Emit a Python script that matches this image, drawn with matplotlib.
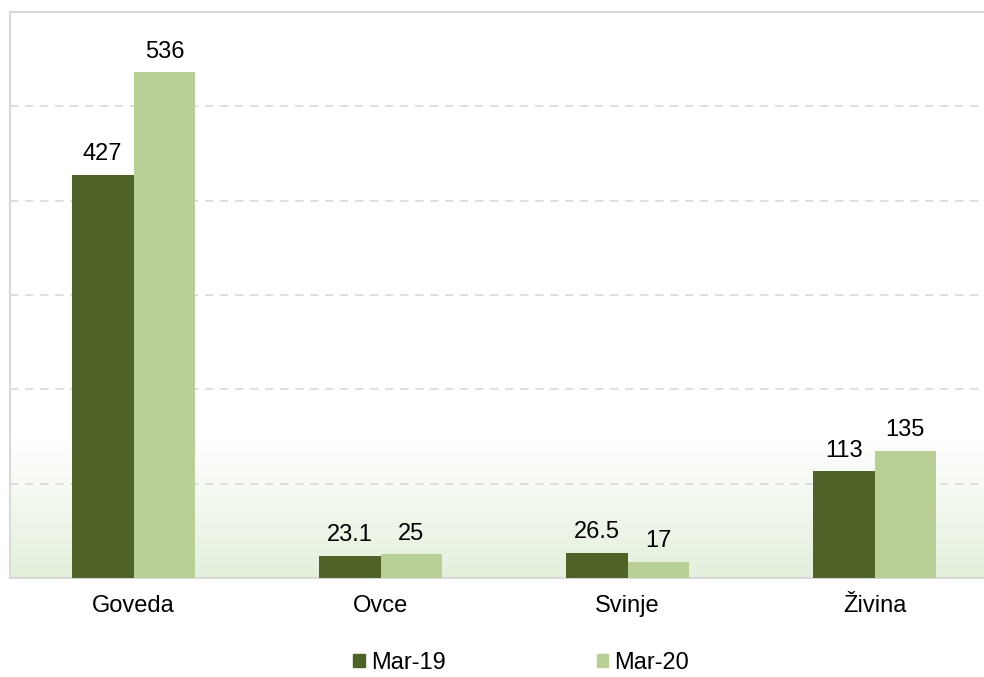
import numpy as np
import matplotlib.pyplot as plt
from matplotlib.patches import Patch

# podaci
kategorije = ["Goveda", "Ovce", "Svinje", "Živina"]
mar19 = [427, 23.1, 26.5, 113]
mar20 = [536, 25, 17, 135]
serije = ["Mar-19", "Mar-20"]

tamna = "#4f6228"
svijetla = "#b9cf96"
siva = "#d9d9d9"

plt.rcParams['font.family'] = ['Liberation Sans', 'DejaVu Sans']

fig = plt.figure(figsize=(9.84, 6.77), dpi=100)
ax = fig.add_axes([10 / 984, 99 / 677, 988 / 984, 566 / 677])

x = np.arange(len(kategorije))
w = 0.25

# gradijent pri dnu (bijelo gore, zeleno dolje)
t = np.linspace(0, 1, 256)[:, None, None]
boja_dno = np.array([0.89, 0.94, 0.86])
img = boja_dno * (1 - t) + np.ones(3) * t
ax.imshow(img, extent=(-0.5, 3.5, 0, 147), aspect='auto', origin='lower', zorder=0)

b1 = ax.bar(x - w / 2, mar19, w, color=tamna, zorder=3, label=serije[0])
b2 = ax.bar(x + w / 2, mar20, w, color=svijetla, zorder=3, label=serije[1])

ax.bar_label(b1, labels=[f"{v:g}" for v in mar19], padding=7, fontsize=17)
ax.bar_label(b2, labels=[f"{v:g}" for v in mar20], padding=7, fontsize=17)

ax.set_xlim(-0.5, 3.5)
ax.set_ylim(0, 600)
ax.set_yticks([100, 200, 300, 400, 500])
ax.yaxis.grid(True, color=siva, linestyle=(0, (5, 4)), linewidth=1.2, zorder=1)
ax.set_axisbelow(True)
ax.tick_params(axis='y', left=False, labelleft=False)
ax.set_xticks(x)
ax.set_xticklabels(kategorije, fontsize=17)
ax.tick_params(axis='x', length=0, pad=12)

for s in ['left', 'top', 'bottom']:
    ax.spines[s].set_color(siva)
    ax.spines[s].set_linewidth(1.5)
ax.spines['right'].set_visible(False)

handles = [Patch(color=tamna), Patch(color=svijetla)]
fig.legend(handles, serije, loc='center', bbox_to_anchor=(521 / 984, 1 - 663 / 677),
           ncol=2, frameon=False, fontsize=17, handlelength=0.5, handleheight=0.5,
           handletextpad=0.25, columnspacing=6.4)

fig.savefig("out.png", dpi=100)
